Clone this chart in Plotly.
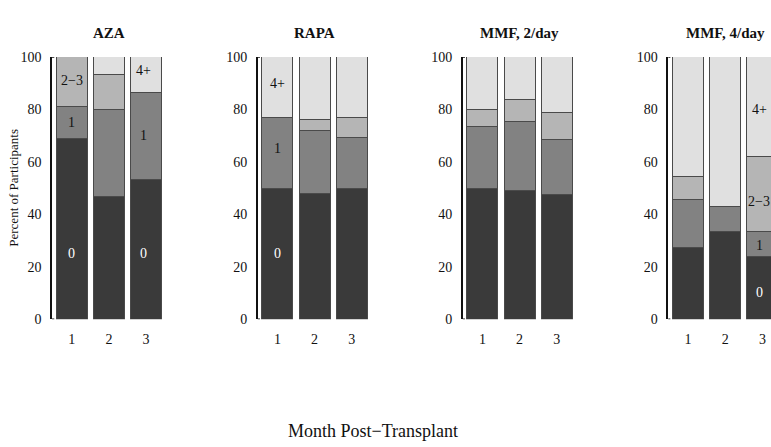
import plotly.graph_objects as go

# Treatment groups and months post-transplant
groups = ["AZA", "RAPA", "MMF, 2/day", "MMF, 4/day"]
months = [1, 2, 3]
categories = ["0", "1", "2\u22123", "4+"]

# Percent of participants per category, one list per month (0, 1, 2-3, 4+)
aza = [[68.75, 12.5, 18.75, 0.0], [46.7, 33.3, 13.3, 6.7], [53.3, 33.3, 0.0, 13.4]]
rapa = [[50.0, 26.9, 0.0, 23.1], [48.0, 24.0, 4.0, 24.0], [50.0, 19.2, 7.7, 23.1]]
mmf2 = [[50.0, 23.3, 6.7, 20.0], [49.2, 26.2, 8.2, 16.4], [47.4, 21.1, 10.5, 21.0]]
mmf4 = [[27.3, 18.2, 9.1, 45.4], [33.3, 9.5, 0.0, 57.2], [23.8, 9.5, 28.6, 38.1]]
group_values = [aza, rapa, mmf2, mmf4]

# In-bar category labels: (group index, month, category index, label height)
bar_labels = [
    (0, 1, 0, 25), (0, 1, 1, 75), (0, 1, 2, 91),
    (0, 3, 0, 25), (0, 3, 1, 70), (0, 3, 3, 95),
    (1, 1, 0, 25), (1, 1, 1, 65), (1, 1, 3, 90),
    (3, 3, 0, 10), (3, 3, 1, 28), (3, 3, 2, 45), (3, 3, 3, 80),
]

fill_colors = ["#3a3a3a", "#828282", "#b5b5b5", "#e0e0e0"]
text_colors = ["#ffffff", "#111111", "#111111", "#111111"]
ink = "#111111"
serif = "Liberation Serif, Times New Roman, serif"

W, H = 771, 447
axis_left_px = [52, 257.7, 462.7, 668.3]
panel_w_px = 113.8
cat_px = panel_w_px / 3.06
y_bottom = (H - 323) / H
y_top = (H - 51.7) / H

fig = go.Figure()
layout = dict(
    width=W, height=H,
    margin=dict(l=0, r=0, t=0, b=0),
    paper_bgcolor="white", plot_bgcolor="white",
    barmode="stack", bargap=0.17, showlegend=False,
    font=dict(family=serif, color=ink, size=14),
)
annotations = []
shapes = []

for g, name in enumerate(groups):
    sfx = "" if g == 0 else str(g + 1)
    xa, ya = "x" + sfx, "y" + sfx
    left = axis_left_px[g]
    right = min(left + panel_w_px, W)
    x_hi = 0.47 + (right - left) / cat_px
    vals = group_values[g]
    for c, cat in enumerate(categories):
        fig.add_trace(go.Bar(
            x=months, y=[vals[m][c] for m in range(3)], name=cat,
            xaxis=xa, yaxis=ya, width=0.83,
            marker=dict(color=fill_colors[c], line=dict(color="#4a4a4a", width=1)),
            hoverinfo="skip",
        ))
    layout["xaxis" + sfx] = dict(
        domain=[left / W, right / W], range=[0.47, x_hi], anchor=ya,
        tickvals=months, ticktext=[str(m) for m in months], ticks="",
        showline=False, showgrid=False, zeroline=False,
        tickfont=dict(size=14, family=serif, color=ink), ticklabelstandoff=10,
    )
    layout["yaxis" + sfx] = dict(
        domain=[y_bottom, y_top], range=[0, 100], anchor=xa,
        tickvals=[0, 20, 40, 60, 80, 100], ticks="",
        showline=True, linecolor=ink, linewidth=1.5,
        showgrid=False, zeroline=False,
        tickfont=dict(size=14, family=serif, color=ink), ticklabelstandoff=6,
    )
    # short bracket ends at the top and bottom of the value axis
    for yv in (0, 100):
        shapes.append(dict(type="line", xref=xa + " domain", yref=ya,
                           x0=0, x1=0.02, y0=yv, y1=yv,
                           line=dict(color=ink, width=1.5)))
    annotations.append(dict(
        text="<b>" + name + "</b>", xref="paper", yref="paper",
        x=(left + panel_w_px / 2) / W, y=(H - 27) / H,
        showarrow=False, font=dict(size=15, family=serif, color=ink),
        xanchor="center", yanchor="middle",
    ))

for g, m, c, yv in bar_labels:
    sfx = "" if g == 0 else str(g + 1)
    annotations.append(dict(
        text=categories[c], x=m, y=yv, xref="x" + sfx, yref="y" + sfx,
        showarrow=False, xshift=-3 if m == 3 else 0,
        font=dict(size=14, family=serif, color=text_colors[c]),
    ))

annotations.append(dict(
    text="Percent of Participants", xref="paper", yref="paper",
    x=14 / W, y=(H - 187) / H, textangle=-90, showarrow=False,
    font=dict(size=13, family=serif, color=ink),
    xanchor="center", yanchor="middle",
))
annotations.append(dict(
    text="Month Post\u2212Transplant", xref="paper", yref="paper",
    x=372.6 / W, y=(H - 439) / H, showarrow=False,
    font=dict(size=18, family=serif, color=ink),
    xanchor="center", yanchor="middle",
))

layout["annotations"] = annotations
layout["shapes"] = shapes
fig.update_layout(**layout)
fig.write_html("out.html")
